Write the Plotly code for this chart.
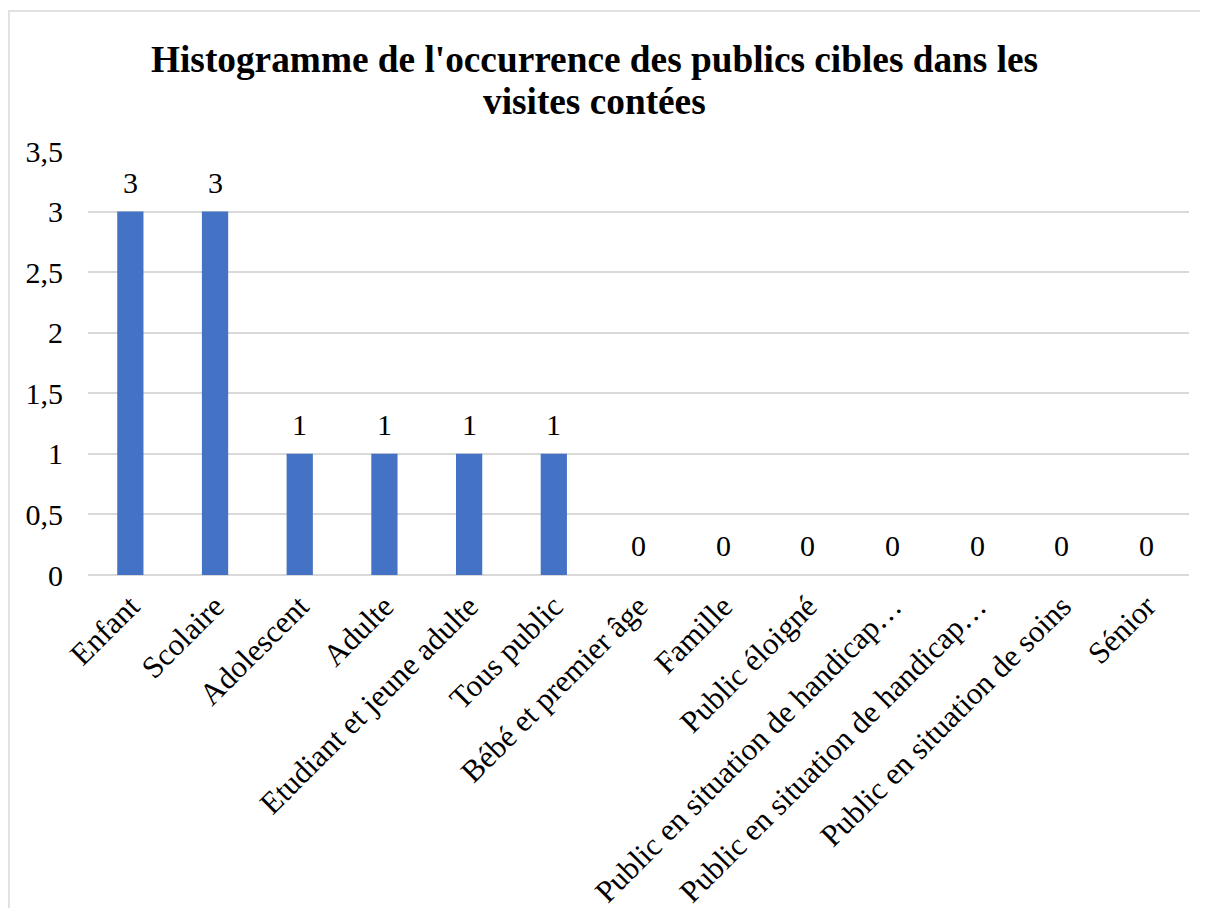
import plotly.graph_objects as go

# ===== DATA =====
categories = [
    "Enfant", "Scolaire", "Adolescent", "Adulte", "Etudiant et jeune adulte",
    "Tous public", "Bébé et premier âge", "Famille", "Public éloigné",
    "Public en situation de handicap…", "Public en situation de handicap…",
    "Public en situation de soins", "Sénior",
]
counts = [3, 3, 1, 1, 1, 1, 0, 0, 0, 0, 0, 0, 0]
y_ticks = [0, 0.5, 1, 1.5, 2, 2.5, 3, 3.5]
y_tick_labels = ["0", "0,5", "1", "1,5", "2", "2,5", "3", "3,5"]
title_lines = ["Histogramme de l'occurrence des publics cibles dans les", "visites contées"]

# the two truncated "handicap…" labels are identical, so plot against positions
positions = list(range(len(categories)))

font_family = "Liberation Serif, Times New Roman, serif"

fig = go.Figure(go.Bar(
    x=positions,
    y=counts,
    marker=dict(color="#4472C4", line=dict(width=0)),
    hoverinfo="y",
))

# data labels, Excel-style gap above each bar
for pos, v in zip(positions, counts):
    fig.add_annotation(
        x=pos, y=v, text=str(v), showarrow=False,
        yanchor="bottom", yshift=11,
        font=dict(family=font_family, size=30, color="#000000"),
    )

# two-line bold title
for i, line in enumerate(title_lines):
    fig.add_annotation(
        xref="paper", yref="paper", x=0.4596, y=[1.162, 1.0637][i],
        xanchor="center", yanchor="bottom", text=f"<b>{line}</b>", showarrow=False,
        font=dict(family=font_family, size=37.3, color="#000000"),
    )

fig.update_layout(
    width=1208,
    height=908,
    paper_bgcolor="white",
    plot_bgcolor="white",
    font=dict(family=font_family, size=30, color="#000000"),
    margin=dict(l=80, r=27, t=143, b=341, autoexpand=False),
    bargap=0.69,
    showlegend=False,
    xaxis=dict(
        tickmode="array",
        tickvals=positions,
        ticktext=categories,
        tickangle=-45,
        range=[-0.5, len(categories) - 0.5],
        showgrid=False,
        showline=False,
        ticks="",
        ticklabelstandoff=6,
        automargin=False,
        tickfont=dict(family=font_family, size=31, color="#000000"),
    ),
    yaxis=dict(
        range=[0, 3.5],
        tickmode="array",
        tickvals=y_ticks,
        ticktext=y_tick_labels,
        showgrid=True,
        gridcolor="#D9D9D9",
        gridwidth=1.5,
        zeroline=True,
        zerolinecolor="#D9D9D9",
        zerolinewidth=1.5,
        showline=False,
        ticks="",
        ticklabelstandoff=24,
        automargin=False,
        tickfont=dict(family=font_family, size=30, color="#000000"),
    ),
)

# chart area border (cropped at right and bottom in the reference)
fig.add_shape(
    type="rect", xref="paper", yref="paper",
    x0=-0.0718, x1=1.2, y0=-1.2, y1=1.330,
    line=dict(color="#D9D9D9", width=1.5),
    fillcolor="rgba(0,0,0,0)",
    layer="below",
)

fig.write_html("out.html")
